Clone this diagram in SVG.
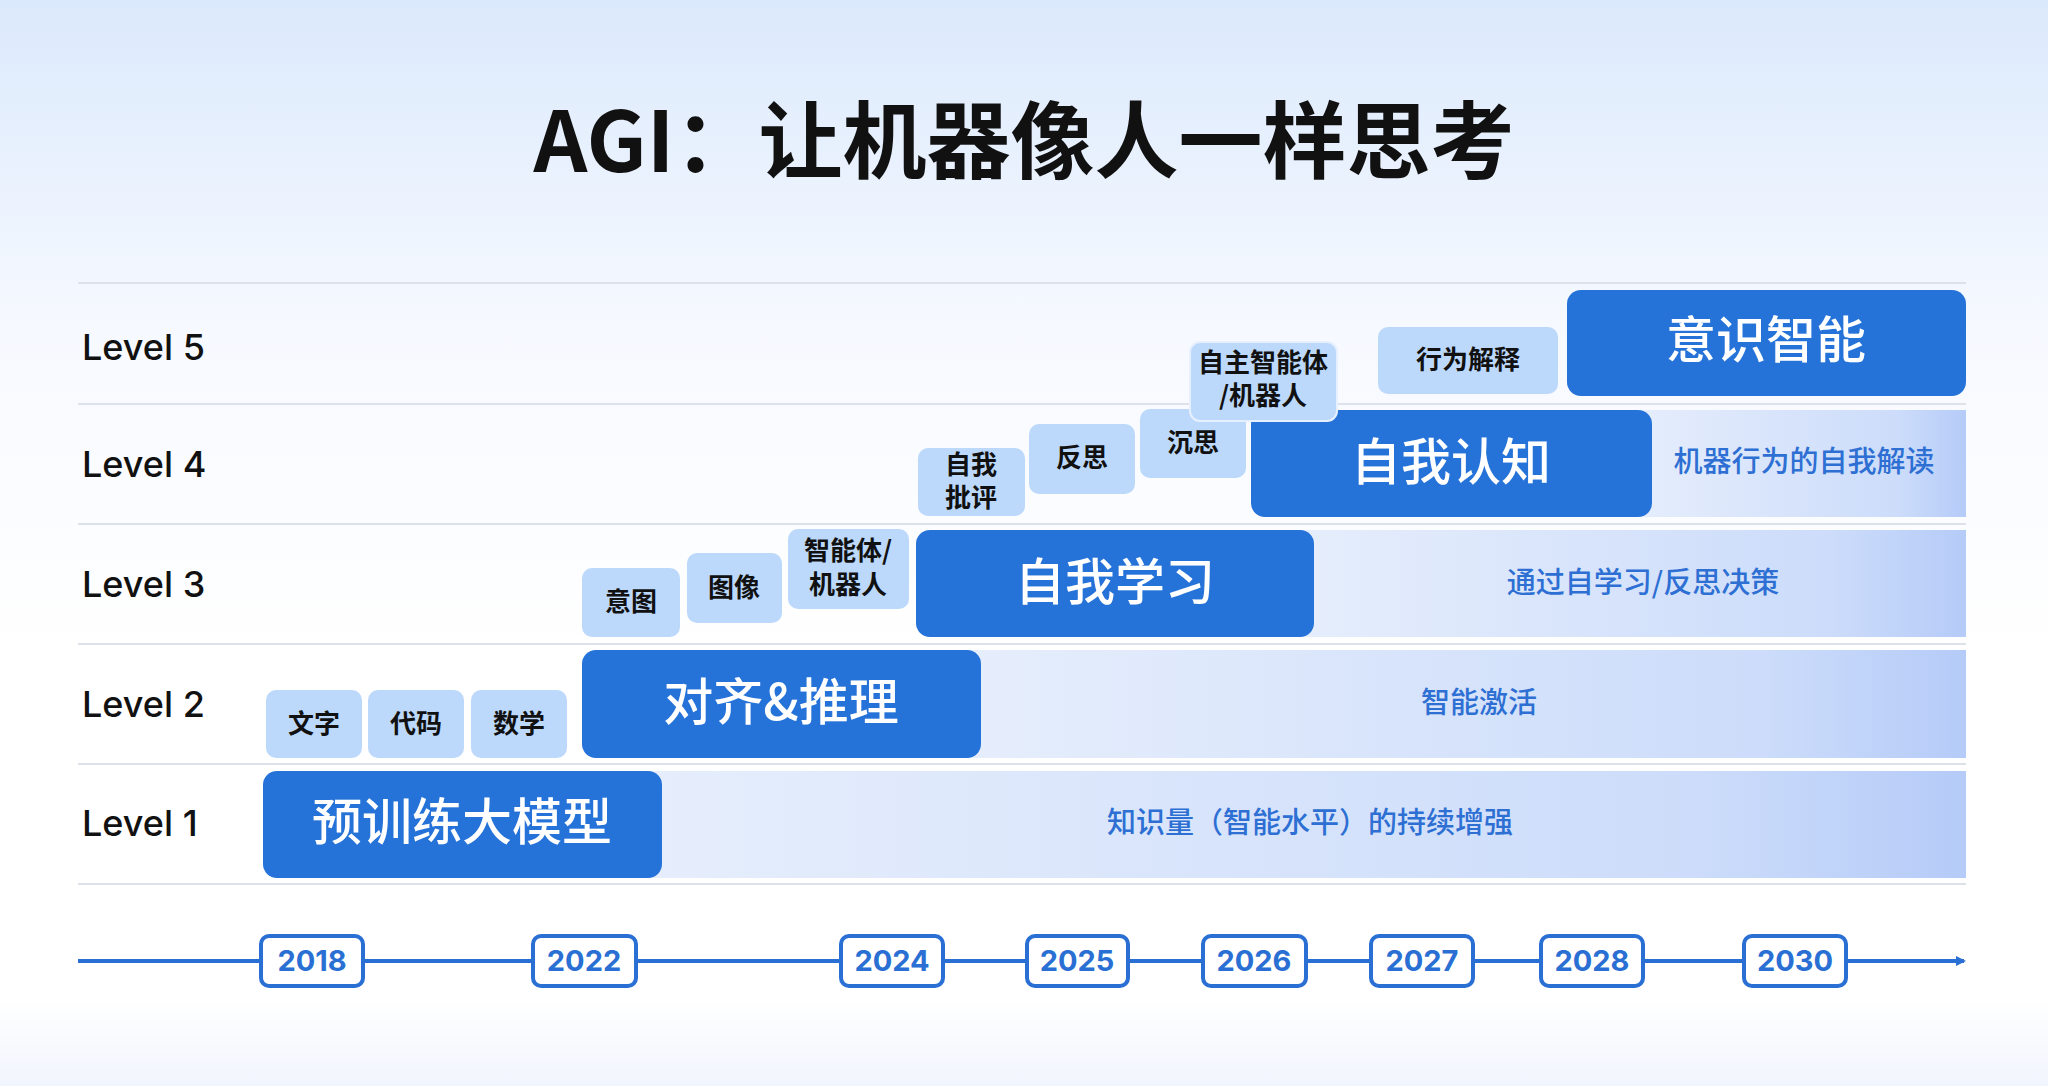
<svg xmlns="http://www.w3.org/2000/svg" width="2048" height="1086" viewBox="0 0 2048 1086">
<defs>
<linearGradient id="bg" x1="0" y1="0" x2="0" y2="1">
<stop offset="0" stop-color="#dbe9fc"/><stop offset="0.3" stop-color="#f6f9ff"/><stop offset="0.6" stop-color="#ffffff"/><stop offset="0.92" stop-color="#ffffff"/><stop offset="1" stop-color="#f1f5fd"/>
</linearGradient>
<linearGradient id="band" x1="0" y1="0" x2="1" y2="0">
<stop offset="0" stop-color="#e6eefc"/><stop offset="0.8" stop-color="#ccdcfa"/><stop offset="1" stop-color="#b5cbf8"/>
</linearGradient>
<marker id="arr" markerWidth="10" markerHeight="10" refX="8" refY="5" orient="auto" markerUnits="userSpaceOnUse">
<path d="M0,0 L10,5 L0,10 z" fill="#2a6fd3"/>
</marker>
<style>
text{font-family:"Noto Sans CJK SC","Noto Sans",sans-serif;font-weight:700;}
.lvl{font-family:"Inter","Noto Sans",sans-serif;font-weight:500;font-size:36px;fill:#111;}
.big{fill:#2572d9;}
.bt{fill:#fff;font-size:50px;text-anchor:middle;font-weight:500;}
.sm{fill:#bcd9fc;}
.st{fill:#111;font-size:26px;text-anchor:middle;}
.dt{fill:#2d6fd3;font-size:29px;text-anchor:middle;font-weight:500;}
.grid{stroke:#dde2ea;stroke-width:2;}
.yr{fill:#fff;stroke:#2a6fd3;stroke-width:4;}
.yt{fill:#2a6fd3;font-size:29px;text-anchor:middle;font-family:"Inter","Noto Sans",sans-serif;font-weight:700;}
</style>
</defs>
<rect width="2048" height="1086" fill="url(#bg)"/>
<text x="1024" y="172" text-anchor="middle" font-size="84" fill="#111">AGI：让机器像人一样思考</text>

<g id="grid">
<line class="grid" x1="78" y1="283" x2="1966" y2="283"/>
<line class="grid" x1="78" y1="404" x2="1966" y2="404"/>
<line class="grid" x1="78" y1="524" x2="1966" y2="524"/>
<line class="grid" x1="78" y1="644" x2="1966" y2="644"/>
<line class="grid" x1="78" y1="764" x2="1966" y2="764"/>
<line class="grid" x1="78" y1="884" x2="1966" y2="884"/>
</g>
<g id="levels">
<text class="lvl" x="82" y="360">Level 5</text>
<text class="lvl" x="82" y="477">Level 4</text>
<text class="lvl" x="82" y="597">Level 3</text>
<text class="lvl" x="82" y="717">Level 2</text>
<text class="lvl" x="82" y="836">Level 1</text>
</g>

<g id="level1">
<rect x="640" y="771" width="1326" height="107" fill="url(#band)"/>
<text class="dt" x="1310" y="833">知识量（智能水平）的持续增强</text>
<rect class="big" x="263" y="771" width="399" height="107" rx="14"/>
<text class="bt" x="462" y="840">预训练大模型</text>
</g>
<g id="level2">
<rect x="960" y="650" width="1006" height="108" fill="url(#band)"/>
<text class="dt" x="1479" y="713">智能激活</text>
<rect class="big" x="582" y="650" width="399" height="108" rx="14"/>
<text class="bt" x="781" y="720">对齐&amp;推理</text>
<g id="n-wenzi"><rect class="sm" x="266" y="690" width="96" height="68" rx="10"/><text class="st" x="314" y="733">文字</text></g>
<g id="n-daima"><rect class="sm" x="368" y="690" width="96" height="68" rx="10"/><text class="st" x="416" y="733">代码</text></g>
<g id="n-shuxue"><rect class="sm" x="471" y="690" width="96" height="68" rx="10"/><text class="st" x="519" y="733">数学</text></g>
</g>
<g id="level3">
<rect x="1290" y="530" width="676" height="107" fill="url(#band)"/>
<text class="dt" x="1643" y="593">通过自学习/反思决策</text>
<rect class="big" x="916" y="530" width="398" height="107" rx="14"/>
<text class="bt" x="1115" y="600">自我学习</text>
<g id="n-yitu"><rect class="sm" x="582" y="568" width="98" height="69" rx="10"/><text class="st" x="631" y="611">意图</text></g>
<g id="n-tuxiang"><rect class="sm" x="687" y="553" width="95" height="70" rx="10"/><text class="st" x="734" y="597">图像</text></g>
<g id="n-agent"><rect class="sm" x="788" y="529" width="121" height="80" rx="10"/><text class="st" x="848" y="560">智能体/</text><text class="st" x="848" y="594">机器人</text></g>
</g>
<g id="level4">
<rect x="1630" y="410" width="336" height="107" fill="url(#band)"/>
<text class="dt" x="1804" y="472" font-size="30">机器行为的自我解读</text>
<g id="n-pipping"><rect class="sm" x="918" y="448" width="107" height="68" rx="10"/><text class="st" x="971" y="474">自我</text><text class="st" x="971" y="507">批评</text></g>
<g id="n-fansi"><rect class="sm" x="1029" y="424" width="106" height="70" rx="10"/><text class="st" x="1082" y="467">反思</text></g>
<g id="n-chensi"><rect class="sm" x="1140" y="409" width="106" height="69" rx="10"/><text class="st" x="1193" y="452">沉思</text></g>
<rect class="big" x="1251" y="410" width="401" height="107" rx="14"/>
<text class="bt" x="1451" y="480">自我认知</text>
<g id="n-auto"><rect class="sm" x="1190" y="342" width="147" height="79" rx="10" stroke="#e6f0fe" stroke-width="2"/><text class="st" x="1263" y="372">自主智能体</text><text class="st" x="1263" y="405">/机器人</text></g>
</g>
<g id="level5">
<g id="n-xingwei"><rect class="sm" x="1378" y="327" width="180" height="67" rx="10"/><text class="st" x="1468" y="369">行为解释</text></g>
<rect class="big" x="1567" y="290" width="399" height="106" rx="14"/>
<text class="bt" x="1766" y="358">意识智能</text>
</g>

<g id="connectors">
<line x1="78" y1="961" x2="1964" y2="961" stroke="#2a6fd3" stroke-width="4" marker-end="url(#arr)"/>
</g>
<g id="years">
<g><rect class="yr" x="261" y="936" width="102" height="50" rx="8"/><text class="yt" x="312" y="971">2018</text></g>
<g><rect class="yr" x="533" y="936" width="103" height="50" rx="8"/><text class="yt" x="584" y="971">2022</text></g>
<g><rect class="yr" x="841" y="936" width="102" height="50" rx="8"/><text class="yt" x="892" y="971">2024</text></g>
<g><rect class="yr" x="1027" y="936" width="101" height="50" rx="8"/><text class="yt" x="1077" y="971">2025</text></g>
<g><rect class="yr" x="1203" y="936" width="103" height="50" rx="8"/><text class="yt" x="1254" y="971">2026</text></g>
<g><rect class="yr" x="1371" y="936" width="102" height="50" rx="8"/><text class="yt" x="1422" y="971">2027</text></g>
<g><rect class="yr" x="1541" y="936" width="102" height="50" rx="8"/><text class="yt" x="1592" y="971">2028</text></g>
<g><rect class="yr" x="1744" y="936" width="102" height="50" rx="8"/><text class="yt" x="1795" y="971">2030</text></g>
</g>
</svg>
